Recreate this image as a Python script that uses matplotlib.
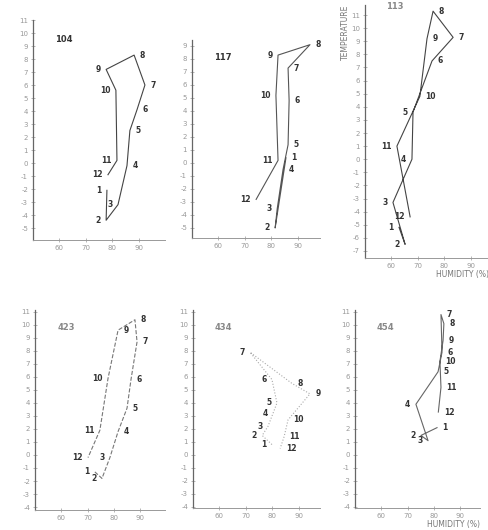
#! /usr/bin/env python3
#
#  Climographs for six stations: monthly mean temperature against humidity.
#
import matplotlib
matplotlib.use('Agg')
import matplotlib.pyplot as plt
import numpy as np

months = [1, 2, 3, 4, 5, 6, 7, 8, 9, 10, 11, 12]
stations = ['104', '117', '113', '423', '434', '454']

# humidity (%) per month
hum_104 = [78.0, 77.7, 82.2, 85.6, 86.7, 89.4, 92.4, 88.3, 77.7, 81.4, 81.8, 78.4]
hum_117 = [85.6, 81.5, 82.3, 84.5, 86.4, 86.8, 86.4, 94.7, 82.6, 81.8, 82.6, 74.3]
hum_113 = [62.9, 65.2, 60.6, 67.8, 68.2, 75.4, 83.4, 75.8, 73.5, 70.8, 62.1, 67.1]
hum_423 = [72.7, 75.4, 78.4, 81.5, 84.9, 86.4, 88.7, 87.9, 81.5, 77.7, 74.6, 70.1]
hum_434 = [79.9, 76.2, 78.4, 80.3, 81.8, 79.9, 71.6, 87.5, 94.3, 86.0, 84.5, 83.0]
hum_454 = [81.1, 75.0, 77.7, 73.1, 81.5, 83.0, 82.6, 83.7, 83.4, 82.2, 82.6, 81.6]

# temperature (deg C) per month
tmp_104 = [-2.1, -4.4, -3.2, -0.2, 2.5, 4.1, 6.0, 8.3, 7.2, 5.6, 0.2, -0.9]
tmp_117 = [0.4, -5.0, -3.5, -0.5, 1.4, 4.8, 7.3, 9.1, 8.3, 5.2, 0.2, -2.8]
tmp_113 = [-5.2, -6.5, -3.3, 0.0, 3.6, 7.5, 9.3, 11.3, 9.2, 4.8, 1.0, -4.4]
tmp_423 = [-1.3, -1.8, -0.2, 1.8, 3.6, 5.8, 8.7, 10.4, 9.6, 5.9, 1.9, -0.2]
tmp_434 = [0.8, 1.5, 2.2, 3.2, 4.0, 5.8, 7.9, 5.5, 4.7, 2.7, 1.4, 0.5]
tmp_454 = [2.1, 1.5, 1.1, 3.9, 6.4, 7.9, 10.8, 10.1, 8.8, 7.2, 5.2, 3.3]

humidity = [hum_104, hum_117, hum_113, hum_423, hum_434, hum_454]
temperature = [tmp_104, tmp_117, tmp_113, tmp_423, tmp_434, tmp_454]

W, H = 489, 530
# panel frames in pixels: left, right, top, bottom ; and axis limits
frames = [(33, 165, 20, 240), (192, 320, 40, 238), (365, 489, 5, 258),
          (35, 165, 310, 510), (193, 320, 310, 508), (355, 480, 310, 508)]
xlims = [(50, 100), (50, 98.5), (50, 97), (50, 99.3), (50, 98.1), (50, 97.4)]
ylims = [(-5.92, 11.0), (-5.77, 9.46), (-7.54, 11.77),
         (-4.23, 11.15), (-4.08, 11.15), (-4.08, 11.15)]
line_col = ['#444444', '#555555', '#444444', '#777777', '#aaaaaa', '#666666']
line_sty = ['-', '-', '-', '--', ':', '-']

fig = plt.figure(figsize=(W / 100, H / 100), dpi=100)

for i in range(6):
    l, r, t, b = frames[i]
    ax = fig.add_axes([l / W, 1 - b / H, (r - l) / W, (b - t) / H])
    ax.set_xlim(*xlims[i])
    ax.set_ylim(*ylims[i])
    ax.patch.set_alpha(0)
    for s in ['top', 'right']:
        ax.spines[s].set_visible(False)
    ax.spines['left'].set_color('#666666')
    ax.spines['bottom'].set_color('#999999')
    ax.spines['left'].set_linewidth(0.9)
    ax.spines['bottom'].set_linewidth(0.7)

    lo = int(np.ceil(ylims[i][0]))
    hi = int(np.floor(ylims[i][1]))
    ax.set_yticks(range(lo, hi + 1))
    ax.set_yticklabels([str(v) for v in range(lo, hi + 1)])
    ax.set_xticks([60, 70, 80, 90])
    ax.set_xticklabels(['60', '70', '80', '90'])
    ax.tick_params(axis='both', direction='inout', length=3, width=0.6,
                   colors='#aaaaaa', labelsize=5, labelcolor='#999999', pad=2)

    x = humidity[i]
    y = temperature[i]
    ax.plot(x, y, color=line_col[i], lw=0.8, ls=line_sty[i])
    xm = np.mean(x)
    for m, xx, yy in zip(months, x, y):
        dx = 4 if xx >= xm else -4
        ax.annotate(str(m), (xx, yy), xytext=(dx, 0), textcoords='offset points',
                    ha='left' if dx > 0 else 'right', va='center',
                    fontsize=5.5, color='#333333', fontweight='bold')

    ax.text(0.17, 0.9 if i != 2 else 0.985, stations[i], transform=ax.transAxes,
            fontsize=6, fontweight='bold', color='#333333' if i < 2 else '#888888')

    if i in (2, 5):
        ax.set_xlabel('HUMIDITY (%)', fontsize=5.5, color='#777777', labelpad=1,
                      loc='right')
    if i == 2:
        ax.set_ylabel('TEMPERATURE', fontsize=5.5, color='#777777', labelpad=1,
                      loc='top')

fig.savefig('out.png', dpi=100)
